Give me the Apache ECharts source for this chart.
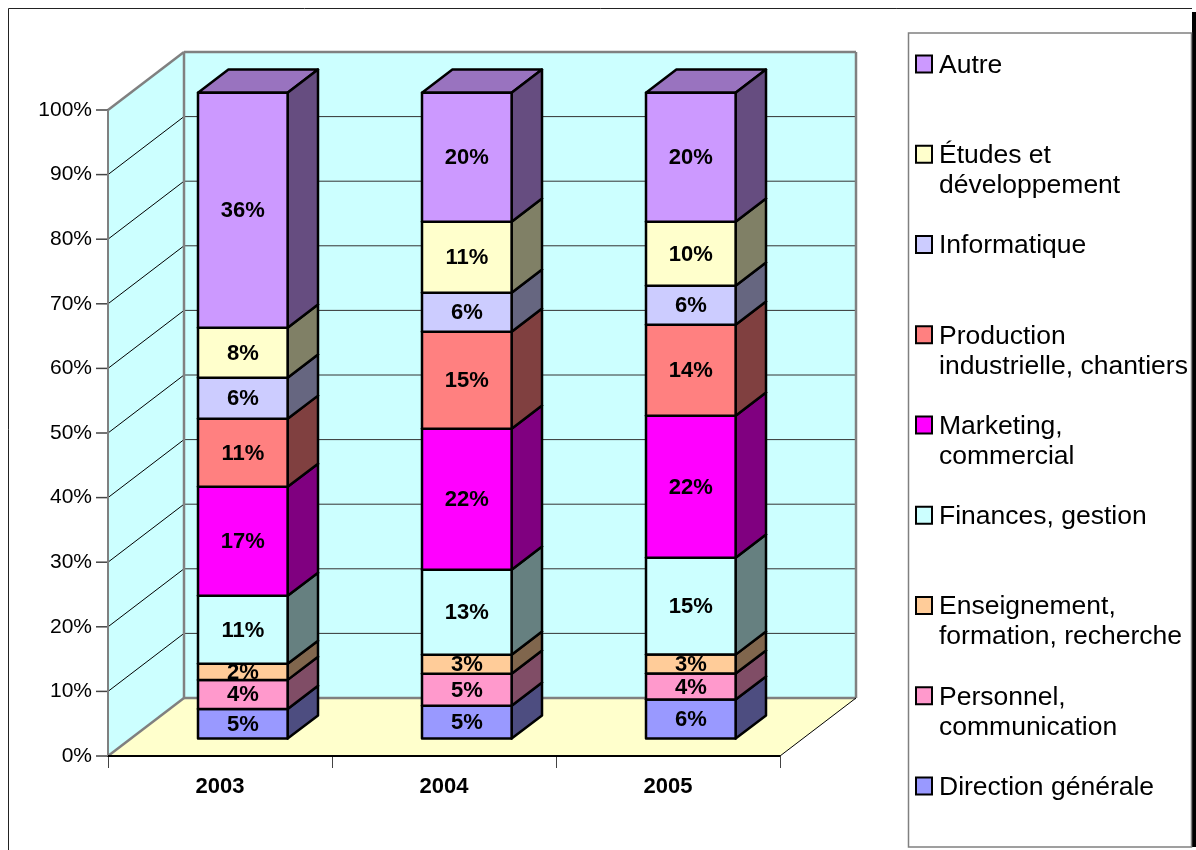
<!DOCTYPE html>
<html>
<head>
<meta charset="utf-8">
<style>
    html, body { margin: 0; padding: 0; background: #fff; }
    #main { width: 1196px; height: 850px; }
</style>
<script src="https://cdn.jsdelivr.net/npm/echarts@6/dist/echarts.min.js"></script>
</head>
<body>
<div id="main"></div>
<script>
// données, en % de la hauteur de chaque barre
let years = ['2003', '2004', '2005'];
let yTicks = [10, 20, 30, 40, 50, 60, 70, 80, 90];
let direction = [4.6, 5.1, 6.04];
let personnel = [4.49, 4.95, 4.02];
let enseignement = [2.48, 2.94, 2.94];
let finances = [10.53, 13.16, 15.0];
let marketing = [16.87, 21.83, 21.98];
let production = [10.53, 15.0, 14.09];
let informatique = [6.35, 6.04, 6.04];
let etudes = [7.74, 11.0, 9.9];
let autre = [36.38, 19.97, 19.97];

let stack = [
    { name: 'Direction générale', values: direction, color: [153, 153, 255] },
    { name: 'Personnel,\ncommunication', values: personnel, color: [255, 153, 204] },
    { name: 'Enseignement,\nformation, recherche', values: enseignement, color: [255, 204, 153] },
    { name: 'Finances, gestion', values: finances, color: [204, 255, 255] },
    { name: 'Marketing,\ncommercial', values: marketing, color: [255, 0, 255] },
    { name: 'Production\nindustrielle, chantiers', values: production, color: [255, 128, 128] },
    { name: 'Informatique', values: informatique, color: [204, 204, 255] },
    { name: 'Études et\ndéveloppement', values: etudes, color: [255, 255, 204] },
    { name: 'Autre', values: autre, color: [204, 153, 255] }
];

const FONT = '"Liberation Sans", Arial, sans-serif';
// profondeur de la 3D : décalage du fond par rapport à la face avant
const DX = 76;
const DY = 58;

function rgb(c, k) {
    return 'rgb(' + Math.round(c[0] * k) + ',' + Math.round(c[1] * k) + ',' + Math.round(c[2] * k) + ')';
}

function poly(points, fill, stroke, width) {
    return {
        type: 'polygon',
        shape: { points: points },
        style: { fill: fill, stroke: stroke, lineWidth: width, lineJoin: 'round' }
    };
}

function line(x1, y1, x2, y2, color, width) {
    return {
        type: 'line',
        shape: { x1: x1, y1: y1, x2: x2, y2: y2 },
        style: { stroke: color, lineWidth: width }
    };
}

// murs, sol et quadrillage
function renderWalls(params, api) {
    let band = api.size([1, 0])[0];
    let x0 = api.coord([0, 0])[0] - band / 2;
    let x1 = api.coord([years.length - 1, 0])[0] + band / 2;
    let y0 = api.coord([0, 0])[1];
    let y1 = api.coord([0, 100])[1];
    let children = [
        poly([[x0, y0], [x0 + DX, y0 - DY], [x1 + DX, y0 - DY], [x1, y0]], '#ffffcc', null, 0),
        poly([[x0, y0], [x0, y1], [x0 + DX, y1 - DY], [x0 + DX, y0 - DY]], '#ccffff', null, 0),
        poly([[x0 + DX, y0 - DY], [x0 + DX, y1 - DY], [x1 + DX, y1 - DY], [x1 + DX, y0 - DY]], '#ccffff', null, 0)
    ];
    yTicks.forEach(function (t) {
        let y = api.coord([0, t])[1];
        children.push(line(x0, y, x0 + DX, y - DY, '#000', 1));
        children.push(line(x0 + DX, y - DY, x1 + DX, y - DY, '#333', 1));
    });
    // petits traits de l'axe vertical
    [0].concat(yTicks, [100]).forEach(function (t) {
        let y = api.coord([0, t])[1];
        children.push(line(x0 - 12, y, x0, y, '#444', 1.5));
    });
    children.push(line(x0, y1, x0 + DX, y1 - DY, '#808080', 2.5));
    children.push(line(x0, y0, x0 + DX, y0 - DY, '#808080', 2.5));
    children.push(line(x0 + DX, y0 - DY, x0 + DX, y1 - DY, '#808080', 2.5));
    children.push(line(x0 + DX, y1 - DY, x1 + DX, y1 - DY, '#808080', 2.5));
    children.push(line(x1 + DX, y1 - DY, x1 + DX, y0 - DY, '#808080', 2.5));
    children.push(line(x0 + DX, y0 - DY, x1 + DX, y0 - DY, '#808080', 2.5));
    children.push(line(x1, y0, x1 + DX, y0 - DY, '#000', 1));
    children.push(line(x0, y0, x0, y1, '#808080', 2));
    children.push(line(x0, y0, x1, y0, '#000', 2));
    return { type: 'group', children: children };
}

// un segment de barre : face, côté, dessus et étiquette
function renderBox(params, api) {
    let c = stack[params.seriesIndex - 1].color;
    let i = api.value(0);
    let from = api.coord([i, api.value(1)]);
    let to = api.coord([i, api.value(2)]);
    let band = api.size([1, 0])[0];
    let w = band * 0.4;
    let ox = DX * 0.3;
    let oy = DY * 0.3;
    let dx = DX * 0.4;
    let dy = DY * 0.4;
    let xa = from[0] - w / 2 + ox;
    let xb = from[0] + w / 2 + ox;
    let yb = from[1] - oy;
    let yt = to[1] - oy;
    return {
        type: 'group',
        children: [
            poly([[xa, yt], [xb, yt], [xb + dx, yt - dy], [xa + dx, yt - dy]], rgb(c, 0.75), '#000', 2.5),
            poly([[xb, yb], [xb, yt], [xb + dx, yt - dy], [xb + dx, yb - dy]], rgb(c, 0.5), '#000', 2.5),
            poly([[xa, yb], [xa, yt], [xb, yt], [xb, yb]], rgb(c, 1), '#000', 2.5),
            {
                type: 'text',
                z2: 100,
                style: {
                    x: (xa + xb) / 2,
                    y: (yb + yt) / 2 + 1,
                    text: Math.round(api.value(2) - api.value(1)) + '%',
                    fill: '#000',
                    font: 'bold 22px ' + FONT,
                    align: 'center',
                    verticalAlign: 'middle'
                }
            }
        ]
    };
}

let series = [{
    type: 'custom',
    name: 'murs',
    z: 1,
    silent: true,
    renderItem: renderWalls,
    data: [[0, 0]]
}];

stack.forEach(function (s, k) {
    series.push({
        type: 'custom',
        name: s.name,
        z: 4 + k,
        silent: true,
        renderItem: renderBox,
        encode: { x: 0, y: [1, 2] },
        data: years.map(function (y, i) {
            let base = 0;
            for (let j = 0; j < k; j++) {
                base += stack[j].values[i];
            }
            return [i, base, base + s.values[i]];
        })
    });
});

// cadre et légende
let graphic = [
    { type: 'line', shape: { x1: 8.5, y1: 8.5, x2: 1192, y2: 8.5 }, style: { stroke: '#222', lineWidth: 1 }, z: 20 },
    { type: 'line', shape: { x1: 8.5, y1: 8.5, x2: 8.5, y2: 850 }, style: { stroke: '#222', lineWidth: 1 }, z: 20 },
    { type: 'rect', shape: { x: 1192, y: 12, width: 4, height: 835 }, style: { fill: '#000' }, z: 20 },
    { type: 'rect', shape: { x: 908.5, y: 33, width: 283, height: 814 }, style: { fill: '#fff', stroke: '#808080', lineWidth: 1.5 }, z: 20 }
];
stack.slice().reverse().forEach(function (s, k) {
    let y = 64 + k * 90.25;
    graphic.push({
        type: 'rect',
        z: 21,
        shape: { x: 916, y: y - 8.5, width: 16, height: 17 },
        style: { fill: rgb(s.color, 1), stroke: '#000', lineWidth: 2 }
    });
    graphic.push({
        type: 'text',
        z: 21,
        style: {
            x: 939,
            y: y - 13.5,
            text: s.name,
            fill: '#000',
            font: '26.5px ' + FONT,
            lineHeight: 30,
            verticalAlign: 'top'
        }
    });
});

let myChart = echarts.init(document.getElementById('main'), null, { renderer: 'canvas' });
let option = {
    animation: false,
    backgroundColor: '#fff',
    textStyle: { fontFamily: FONT },
    grid: { left: 108, top: 110, width: 672, height: 646 },
    xAxis: {
        type: 'category',
        data: years,
        axisLine: { show: true, lineStyle: { color: '#000', width: 2 } },
        axisTick: { show: true, length: 12, lineStyle: { color: '#444', width: 1 } },
        axisLabel: { color: '#000', fontSize: 22, fontWeight: 'bold', margin: 20, fontFamily: FONT }
    },
    yAxis: {
        type: 'value',
        min: 0,
        max: 100,
        interval: 10,
        splitLine: { show: false },
        axisLine: { show: true, lineStyle: { color: '#808080', width: 2 } },
        axisTick: { show: false },
        axisLabel: { color: '#000', fontSize: 21, margin: 16, formatter: '{value}%', fontFamily: FONT }
    },
    graphic: graphic,
    series: series
};
myChart.setOption(option);
window.addEventListener('resize', function () {
    myChart.resize();
});
</script>
</body>
</html>
